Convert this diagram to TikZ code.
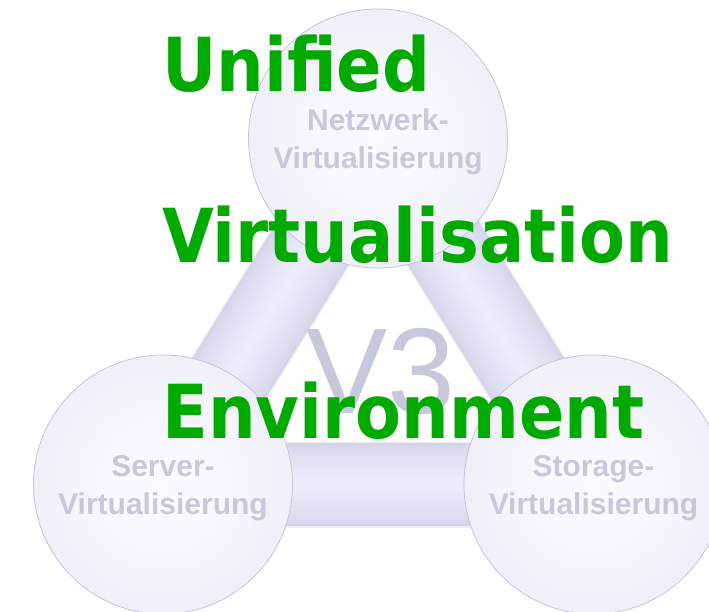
\documentclass[tikz,border=0pt]{standalone}
\usepackage{fontspec}
\newfontfamily\labfont{Liberation Sans}
\newfontfamily\grnfont{DejaVu Sans Condensed}
\definecolor{lavtext}{RGB}{200,200,220}
\definecolor{grn}{RGB}{0,170,0}
\definecolor{sphA}{RGB}{252,252,255}
\definecolor{sphB}{RGB}{244,244,251}
\definecolor{sphC}{RGB}{230,230,244}
\definecolor{sphline}{RGB}{196,196,226}
\definecolor{barline}{RGB}{238,238,244}
\definecolor{barA}{RGB}{210,210,231}
\definecolor{barD}{RGB}{236,236,252}
\pgfdeclareradialshading{sphshade}{\pgfpoint{0bp}{0bp}}{color(0bp)=(sphA); color(18bp)=(sphB); color(40bp)=(sphC); color(50bp)=(sphC)}
\pgfdeclarelayer{paper}
\pgfdeclarelayer{bg}
\pgfsetlayers{paper,bg,main}
\tikzset{
  sphere/.style={circle, minimum size=259pt, inner sep=0pt, shading=sphshade, draw=sphline, line width=0.8pt},
  sphlabel/.style={align=center, text=lavtext, font=\labfont\bfseries\fontsize{30}{38}\selectfont, inner sep=0pt},
  bigtext/.style={anchor=base west, inner sep=0pt, text=grn, font=\grnfont\bfseries\fontsize{74.5}{74.5}\selectfont},
}
\newcommand{\cylbar}[2]{%
  \begin{pgfonlayer}{bg}
  \draw[line width=86pt, color=barline] (#1.center) -- (#2.center);
  \foreach \i in {0,...,19}{%
    \pgfmathsetmacro\barw{83*cos(\i*4.5)}%
    \pgfmathsetmacro\barp{100*\i/19}%
    \draw[line width=\barw pt, color=barD!\barp!barA] (#1.center) -- (#2.center);
  }
  \end{pgfonlayer}}
\begin{document}
\begin{tikzpicture}[x=1pt,y=-1pt]
\useasboundingbox (0,0) rectangle (709,611);
\clip (0,0) rectangle (709,611);
\begin{pgfonlayer}{paper}
\fill[white] (0,0) rectangle (709,611);
\end{pgfonlayer}
\node[sphere] (net) at (378,138.5) {};
\node[sphere] (srv) at (163,484.5) {};
\node[sphere] (sto) at (593.5,484.5) {};
\cylbar{net}{srv}
\cylbar{net}{sto}
\cylbar{srv}{sto}
\node[sphlabel] (netl) at ([yshift=-3.5pt]net.center) {Netzwerk-\\Virtualisierung};
\node[sphlabel] (srvl) at ([yshift=-3.5pt]srv.center) {Server-\\Virtualisierung};
\node[sphlabel] (stol) at ([yshift=-3.5pt]sto.center) {Storage-\\Virtualisierung};
\node[anchor=base, inner sep=0pt, text=lavtext, font=\labfont\fontsize{122}{122}\selectfont] (v3) at (381,413) {V3};
\node[bigtext] (t1) at (162,91) {Unified};
\node[bigtext] (t2) at (162,262) {Virtualisation};
\node[bigtext] (t3) at (162,438) {Environment};
\end{tikzpicture}
\end{document}
